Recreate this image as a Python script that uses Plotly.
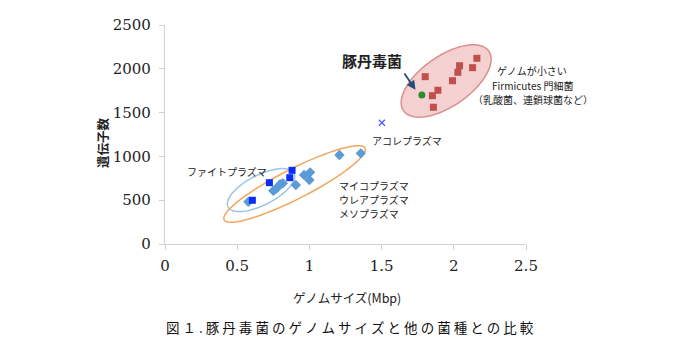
import numpy as np
import plotly.graph_objects as go

# ---------------- data ----------------
phyto_x = [0.605, 0.723, 0.864, 0.880]
phyto_y = [499, 700, 757, 841]

myco_x = [0.577, 0.750, 0.765, 0.778, 0.797, 0.816, 0.906, 0.963, 1.000, 1.005, 1.208, 1.356]
myco_y = [483, 608, 625, 643, 682, 693, 674, 788, 731, 818, 1016, 1035]

acole_x = [1.502]
acole_y = [1385]

firm_x = [1.802, 1.852, 1.890, 1.859, 1.991, 2.028, 2.040, 2.130, 2.160]
firm_y = [1910, 1693, 1755, 1561, 1864, 1960, 2035, 2013, 2120]

erysip_x = [1.779]
erysip_y = [1701]

x_ticks = [0, 0.5, 1, 1.5, 2, 2.5]
x_tick_text = ["0", "0.5", "1", "1.5", "2", "2.5"]
y_ticks = [0, 500, 1000, 1500, 2000, 2500]
y_tick_text = ["0", "500", "1000", "1500", "2000", "2500"]

# ---------------- layout geometry ----------------
OFF = 8  # page body margin
W, H = 692, 350
ML, MT = 165 - OFF, 25 - OFF
PLOT_R, PLOT_B = 525.7 - OFF, 244 - OFF
MR, MB = W - PLOT_R, H - PLOT_B
PW = PLOT_R - ML
PH = PLOT_B - MT
XMAX, YMAX = 2.5, 2500
SX = PW / XMAX      # px per x unit
SY = PH / YMAX      # px per y unit

JP = "Noto Sans CJK JP"
SERIF = "DejaVu Serif"


def ellipse_path(cx, cy, a_px, b_px, ang_deg, n=80):
    t = np.linspace(0, 2 * np.pi, n)
    th = np.deg2rad(ang_deg)
    dx = a_px * np.cos(t) * np.cos(th) - b_px * np.sin(t) * np.sin(th)
    dy = a_px * np.cos(t) * np.sin(th) + b_px * np.sin(t) * np.cos(th)
    xs = cx + dx / SX
    ys = cy + dy / SY
    p = "M %f,%f " % (xs[0], ys[0])
    p += " ".join("L %f,%f" % (x, y) for x, y in zip(xs[1:], ys[1:]))
    return p + " Z"


fig = go.Figure()

fig.add_trace(go.Scatter(x=myco_x, y=myco_y, mode="markers",
                         marker=dict(symbol="diamond", size=8, color="#5B9BD5"),
                         showlegend=False))
fig.add_trace(go.Scatter(x=phyto_x, y=phyto_y, mode="markers",
                         marker=dict(symbol="square", size=7, color="#0A2EF5"),
                         showlegend=False))
fig.add_trace(go.Scatter(x=acole_x, y=acole_y, mode="markers",
                         marker=dict(symbol="x-thin", size=6, color="#4A5CFF",
                                     line=dict(width=1.3, color="#4A5CFF")),
                         showlegend=False))
fig.add_trace(go.Scatter(x=firm_x, y=firm_y, mode="markers",
                         marker=dict(symbol="square", size=7, color="#C0504D"),
                         showlegend=False))
fig.add_trace(go.Scatter(x=erysip_x, y=erysip_y, mode="markers",
                         marker=dict(symbol="circle", size=7, color="#2E8B2E"),
                         showlegend=False))

shapes = [
    dict(type="path", xref="x", yref="y", layer="below",
         path=ellipse_path(1.947, 1861, 52, 25, 35),
         fillcolor="rgba(236,170,170,0.55)", line=dict(color="#D98F8D", width=1.5)),
    dict(type="path", xref="x", yref="y", layer="below",
         path=ellipse_path(0.665, 616, 37, 15, 27),
         fillcolor="rgba(0,0,0,0)", line=dict(color="#9DC3E6", width=1.5)),
    dict(type="path", xref="x", yref="y", layer="below",
         path=ellipse_path(0.897, 685, 79, 15, 27),
         fillcolor="rgba(0,0,0,0)", line=dict(color="#F2A65E", width=1.5)),
]


def px2paper(px, py):
    # px, py given in page pixels of the reference
    return (px - OFF - ML) / PW, (PLOT_B - (py - OFF)) / PH


annotations = []


def txt(px, py, text, size, xanchor="center", color="#222", font=JP, angle=0):
    x, y = px2paper(px, py)
    annotations.append(dict(x=x, y=y, xref="paper", yref="paper", text=text,
                            showarrow=False, xanchor=xanchor, yanchor="middle",
                            textangle=angle,
                            font=dict(family=font, size=size, color=color)))


txt(372, 60, "<b>豚丹毒菌</b>", 15)
txt(532, 70.5, "ゲノムが小さい", 10)
txt(532, 85, "Firmicutes 門細菌", 10)
txt(533, 99.5, "（乳酸菌、連鎖球菌など）", 10)
txt(407, 140, "アコレプラズマ", 10)
txt(227, 171, "ファイトプラズマ", 10)
txt(337, 185, "マイコプラズマ", 10, xanchor="left")
txt(337, 199, "ウレアプラズマ", 10, xanchor="left")
txt(337, 213, "メソプラズマ", 10, xanchor="left")
txt(102, 142, "<b>遺伝子数</b>", 12.5, angle=-90)
txt(347, 297, "ゲノムサイズ(Mbp)", 12.5)
txt(350, 327, " ".join(list("図１.豚丹毒菌のゲノムサイズと他の菌種との比較")), 13.5, color="#111")

# arrow pointing to the green point
annotations.append(dict(x=1.735, y=1760, ax=1.651, ay=1963, xref="x", yref="y",
                        axref="x", ayref="y", showarrow=True, arrowhead=2,
                        arrowsize=1, arrowwidth=1.8, arrowcolor="#1F4E79", text=""))

fig.update_layout(
    width=W, height=H,
    margin=dict(l=ML, r=MR, t=MT, b=MB, pad=0, autoexpand=False),
    paper_bgcolor="white", plot_bgcolor="white",
    shapes=shapes, annotations=annotations,
    xaxis=dict(range=[0, XMAX], tickvals=x_ticks, ticktext=x_tick_text,
               showgrid=False, zeroline=False, showline=True, linecolor="#D0D0D0",
               linewidth=1.3, ticks="outside", ticklen=5, tickcolor="#D0D0D0",
               ticklabelstandoff=3,
               tickfont=dict(family=SERIF, size=15, color="#222")),
    yaxis=dict(range=[0, YMAX], tickvals=y_ticks, ticktext=y_tick_text,
               showgrid=False, zeroline=False, showline=True, linecolor="#D0D0D0",
               linewidth=1.3, ticks="outside", ticklen=5, tickcolor="#D0D0D0",
               ticklabelstandoff=5,
               tickfont=dict(family=SERIF, size=15, color="#222")),
)

fig.write_html("out.html")
